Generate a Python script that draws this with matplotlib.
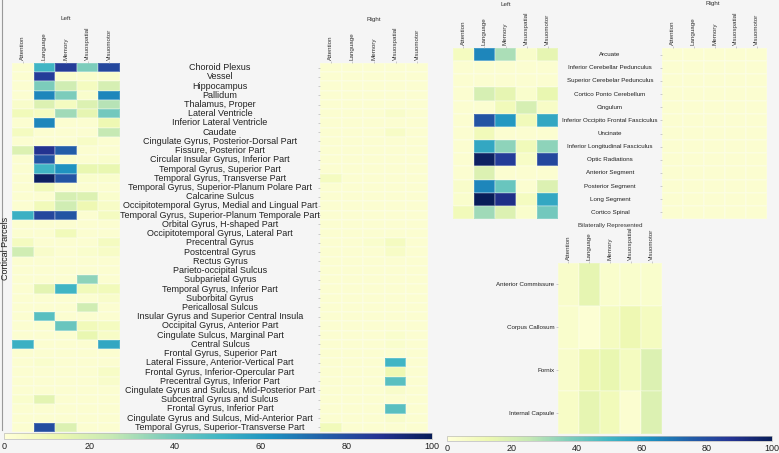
import numpy as np
import matplotlib
matplotlib.use("Agg")
import matplotlib.pyplot as plt
from matplotlib import transforms
from matplotlib.cm import ScalarMappable
from matplotlib.colors import Normalize
from matplotlib.lines import Line2D

plt.rcParams["font.family"] = ["Liberation Sans", "DejaVu Sans"]

domains = ["Attention", "Language", "Memory", "Visuospatial", "Visuomotor"]

cortical = [
    "Choroid Plexus", "Vessel", "Hippocampus", "Pallidum", "Thalamus, Proper",
    "Lateral Ventricle", "Inferior Lateral Ventricle", "Caudate",
    "Cingulate Gyrus, Posterior-Dorsal Part", "Fissure, Posterior Part",
    "Circular Insular Gyrus, Inferior Part", "Temporal Gyrus, Superior Part",
    "Temporal Gyrus, Transverse Part", "Temporal Gyrus, Superior-Planum Polare Part",
    "Calcarine Sulcus", "Occipitotemporal Gyrus, Medial and Lingual Part",
    "Temporal Gyrus, Superior-Planum Temporale Part", "Orbital Gyrus, H-shaped Part",
    "Occipitotemporal Gyrus, Lateral Part", "Precentral Gyrus", "Postcentral Gyrus",
    "Rectus Gyrus", "Parieto-occipital Sulcus", "Subparietal Gyrus",
    "Temporal Gyrus, Inferior Part", "Suborbital Gyrus", "Pericallosal Sulcus",
    "Insular Gyrus and Superior Central Insula", "Occipital Gyrus, Anterior Part",
    "Cingulate Sulcus, Marginal Part", "Central Sulcus", "Frontal Gyrus, Superior Part",
    "Lateral Fissure, Anterior-Vertical Part", "Frontal Gyrus, Inferior-Opercular Part",
    "Precentral Gyrus, Inferior Part", "Cingulate Gyrus and Sulcus, Mid-Posterior Part",
    "Subcentral Gyrus and Sulcus", "Frontal Gyrus, Inferior Part",
    "Cingulate Gyrus and Sulcus, Mid-Anterior Part",
    "Temporal Gyrus, Superior-Transverse Part",
]

# columns: Attention, Language, Memory, Visuospatial, Visuomotor
cort_left = [
    [3, 50, 85, 38, 82], [3, 85, 4, 4, 4], [3, 38, 22, 8, 20], [3, 65, 38, 4, 65],
    [5, 18, 8, 18, 28], [10, 8, 32, 15, 40], [3, 65, 3, 3, 12], [8, 3, 3, 3, 25],
    [3, 3, 3, 6, 3], [18, 88, 75, 3, 3], [3, 78, 4, 3, 4], [3, 50, 62, 14, 14],
    [3, 98, 78, 4, 4], [3, 10, 3, 3, 3], [3, 3, 20, 18, 4], [3, 10, 22, 12, 6],
    [52, 82, 78, 3, 8], [3, 3, 3, 3, 3], [3, 3, 10, 3, 3], [8, 3, 3, 3, 8],
    [22, 5, 3, 4, 6], [3, 3, 3, 3, 3], [3, 3, 3, 3, 3], [3, 3, 3, 35, 3],
    [3, 16, 50, 10, 10], [3, 3, 3, 3, 5], [3, 3, 3, 22, 3], [3, 45, 3, 3, 3],
    [3, 3, 42, 10, 8], [3, 3, 3, 14, 6], [52, 3, 3, 3, 55], [3, 3, 3, 3, 3],
    [3, 4, 3, 3, 3], [3, 3, 3, 3, 6], [3, 3, 3, 3, 5], [3, 3, 3, 3, 3],
    [4, 16, 3, 3, 3], [3, 3, 3, 3, 3], [3, 3, 3, 3, 3], [3, 80, 18, 3, 3],
]

cort_right = [
    [3, 3, 3, 3, 3], [3, 3, 3, 3, 3], [3, 3, 3, 3, 3], [3, 3, 3, 3, 3],
    [3, 3, 3, 3, 3], [3, 3, 3, 5, 3], [3, 3, 3, 3, 3], [3, 3, 3, 6, 3],
    [3, 3, 3, 3, 3], [3, 3, 3, 3, 3], [3, 3, 3, 3, 3], [3, 3, 3, 3, 3],
    [8, 3, 3, 3, 3], [3, 3, 3, 3, 3], [3, 3, 3, 3, 3], [3, 3, 3, 3, 3],
    [3, 3, 3, 3, 3], [3, 3, 3, 3, 3], [3, 3, 3, 3, 3], [3, 3, 4, 8, 3],
    [3, 3, 3, 6, 3], [3, 3, 3, 3, 3], [3, 3, 3, 3, 3], [3, 3, 3, 3, 3],
    [3, 3, 3, 3, 3], [3, 3, 3, 3, 3], [3, 3, 3, 3, 3], [3, 3, 3, 3, 3],
    [3, 3, 3, 3, 3], [3, 3, 3, 4, 3], [3, 3, 3, 4, 3], [3, 3, 3, 3, 3],
    [3, 3, 3, 50, 3], [3, 3, 3, 12, 3], [3, 3, 3, 45, 3], [3, 3, 3, 5, 3],
    [3, 3, 3, 3, 3], [3, 3, 3, 45, 3], [3, 3, 3, 5, 3], [10, 3, 3, 3, 3],
]

tracts = [
    "Arcuate", "Inferior Cerebellar Pedunculus", "Superior Cerebelar Pedunculus",
    "Cortico Ponto Cerebellum", "Cingulum", "Inferior Occipito Frontal Fasciculus",
    "Uncinate", "Inferior Longitudinal Fasciculus", "Optic Radiations",
    "Anterior Segment", "Posterior Segment", "Long Segment", "Cortico Spinal",
]

tract_left = [
    [8, 65, 30, 5, 15], [3, 3, 3, 3, 3], [3, 3, 3, 3, 3], [3, 20, 15, 4, 14],
    [3, 3, 10, 20, 6], [3, 78, 60, 10, 55], [3, 10, 3, 3, 3], [3, 55, 35, 10, 35],
    [3, 98, 85, 6, 82], [3, 18, 3, 3, 3], [5, 65, 42, 3, 18], [4, 100, 90, 8, 55],
    [10, 32, 18, 4, 40],
]

tract_right = [[3, 3, 3, 3, 3] for _ in tracts]

bilateral = ["Anterior Commissure", "Corpus Callosum", "Fornix", "Internal Capsule"]
bilat_vals = [
    [5, 15, 4, 4, 4], [4, 2, 8, 12, 8], [5, 12, 14, 8, 18], [6, 15, 10, 3, 18],
]

W, H = 779, 453
CMAP = "YlGnBu"


def rect(x0, y0, x1, y1):
    return [x0 / W, 1 - y1 / H, (x1 - x0) / W, (y1 - y0) / H]


def heat(ax, data):
    a = np.array(data, dtype=float)
    ax.pcolormesh(a, cmap=CMAP, vmin=0, vmax=100, edgecolors=(1, 1, 1, 0.18), linewidth=0.3)
    ax.set_xlim(0, a.shape[1]); ax.set_ylim(a.shape[0], 0)
    ax.xaxis.tick_top()
    ax.set_xticks(np.arange(len(domains)) + 0.5)
    ax.set_xticklabels(domains, rotation=90, fontsize=4.5, color="#333333")
    ax.tick_params(axis="x", length=1.5, width=0.4, color="#aaaaaa", pad=1)
    ax.set_yticks([])
    for s in ax.spines.values():
        s.set_visible(False)
    return a


def centered_labels(fig, ax, labels, xpix, size):
    tr = transforms.blended_transform_factory(fig.transFigure, ax.transData)
    for i, lab in enumerate(labels):
        ax.text(xpix / W, i + 0.5, lab, transform=tr, ha="center", va="center",
                fontsize=size, color="#222222", clip_on=False)
    ax.set_yticks(np.arange(len(labels)) + 0.5)
    ax.set_yticklabels([])
    ax.tick_params(axis="y", left=True, length=1.5, width=0.4, color="#aaaaaa")


def cbar(fig, r):
    cax = fig.add_axes(r)
    cb = fig.colorbar(ScalarMappable(norm=Normalize(0, 100), cmap=CMAP), cax=cax,
                      orientation="horizontal")
    cb.set_ticks([0, 20, 40, 60, 80, 100])
    cax.tick_params(labelsize=6.5, length=0, pad=2, colors="#222222")
    cb.outline.set_edgecolor("#bbbbbb"); cb.outline.set_linewidth(0.5)


fig = plt.figure(figsize=(W / 100, H / 100), dpi=100, facecolor="#f5f5f5")

# ---- cortical parcels
ax1 = fig.add_axes(rect(12, 63, 120, 432)); heat(ax1, cort_left)
ax2 = fig.add_axes(rect(320, 63, 428, 432)); heat(ax2, cort_right)
centered_labels(fig, ax2, cortical, 220, 6.5)
fig.text(66 / W, 1 - 19 / H, "Left", ha="center", va="center", fontsize=4.5, color="#333333")
fig.text(374 / W, 1 - 19 / H, "Right", ha="center", va="center", fontsize=4.5, color="#333333")
fig.text(6 / W, 1 - 248 / H, "Cortical Parcels", rotation=90, ha="center", va="center",
         fontsize=6.5, color="#222222")
fig.add_artist(Line2D([2 / W, 2 / W], [1 - 430 / H, 1], color="#999999", lw=0.8))
cbar(fig, rect(4, 433, 432, 439))

# ---- white matter tracts
ax3 = fig.add_axes(rect(453, 48, 558, 219)); heat(ax3, tract_left)
ax4 = fig.add_axes(rect(662, 48, 767, 219)); heat(ax4, tract_right)
centered_labels(fig, ax4, tracts, 610, 4.5)
fig.text(506 / W, 1 - 4 / H, "Left", ha="center", va="center", fontsize=4.5, color="#333333")
fig.text(713 / W, 1 - 4 / H, "Right", ha="center", va="center", fontsize=4.5, color="#333333")
fig.text(610 / W, 1 - 225 / H, "Bilaterally Represented", ha="center", va="center",
         fontsize=4.5, color="#333333")

ax5 = fig.add_axes(rect(558, 263, 662, 434)); heat(ax5, bilat_vals)
ax5.set_yticks(np.arange(len(bilateral)) + 0.5)
ax5.set_yticklabels(bilateral, fontsize=4.5, color="#222222")
ax5.tick_params(axis="y", left=True, length=1.5, width=0.4, color="#aaaaaa", pad=1)
cbar(fig, rect(447, 436, 772, 441))

fig.savefig("out.png", dpi=100, facecolor=fig.get_facecolor())
